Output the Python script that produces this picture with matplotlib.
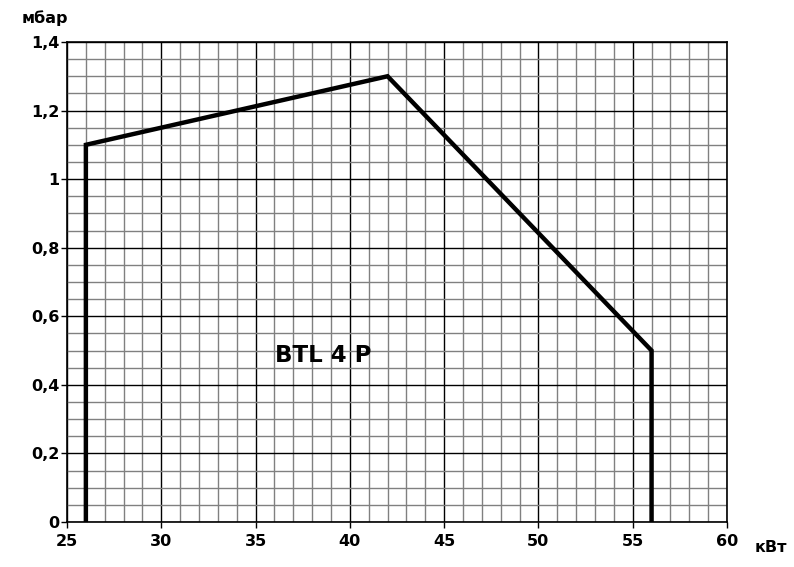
import matplotlib
matplotlib.use("Agg")
import matplotlib.pyplot as plt
import numpy as np

plt.rcParams['font.family'] = ['DejaVu Sans']

power_kw = [26, 26, 42, 56, 56]
pressure_mbar = [0, 1.1, 1.3, 0.5, 0]
x_ticks = [25, 30, 35, 40, 45, 50, 55, 60]
y_ticks = [0, 0.2, 0.4, 0.6, 0.8, 1.0, 1.2, 1.4]
y_labels = ['0', '0,2', '0,4', '0,6', '0,8', '1', '1,2', '1,4']

fig = plt.figure(figsize=(7.94, 5.67), dpi=100)
ax = fig.add_axes([0.0844, 0.0794, 0.8312, 0.8466])
ax.set_xlim(25, 60)
ax.set_ylim(0, 1.4)

ax.set_xticks(x_ticks)
ax.set_yticks(y_ticks)
ax.set_yticklabels(y_labels)
ax.set_xticks(np.arange(25, 61, 1), minor=True)
ax.set_yticks(np.arange(0, 1.401, 0.05), minor=True)
ax.grid(which='minor', color='#808080', linewidth=1.0)
ax.grid(which='major', color='black', linewidth=1.0)
ax.set_axisbelow(True)
ax.tick_params(which='minor', length=0)
ax.tick_params(axis='x', which='major', length=4, width=1, direction='out', labelsize=11.5, pad=5)
ax.tick_params(axis='y', which='major', length=4, width=1, direction='out', labelsize=11.5, pad=1.5)
for lbl in ax.get_xticklabels() + ax.get_yticklabels():
    lbl.set_fontweight('bold')
for s in ax.spines.values():
    s.set_linewidth(1.2)

ax.plot(power_kw, pressure_mbar, color='black', linewidth=3.2, solid_joinstyle='miter', zorder=5)

ax.text(38.6, 0.487, 'BTL 4 P', fontsize=16.5, fontweight='bold', ha='center', va='center')
fig.text(22/794, 1 - 18/567, 'мбар', fontsize=11.5, fontweight='bold', ha='left', va='center')
fig.text(755/794, 1 - 547/567, 'кВт', fontsize=11.5, fontweight='bold', ha='left', va='center')

fig.savefig('out.png', dpi=100)
